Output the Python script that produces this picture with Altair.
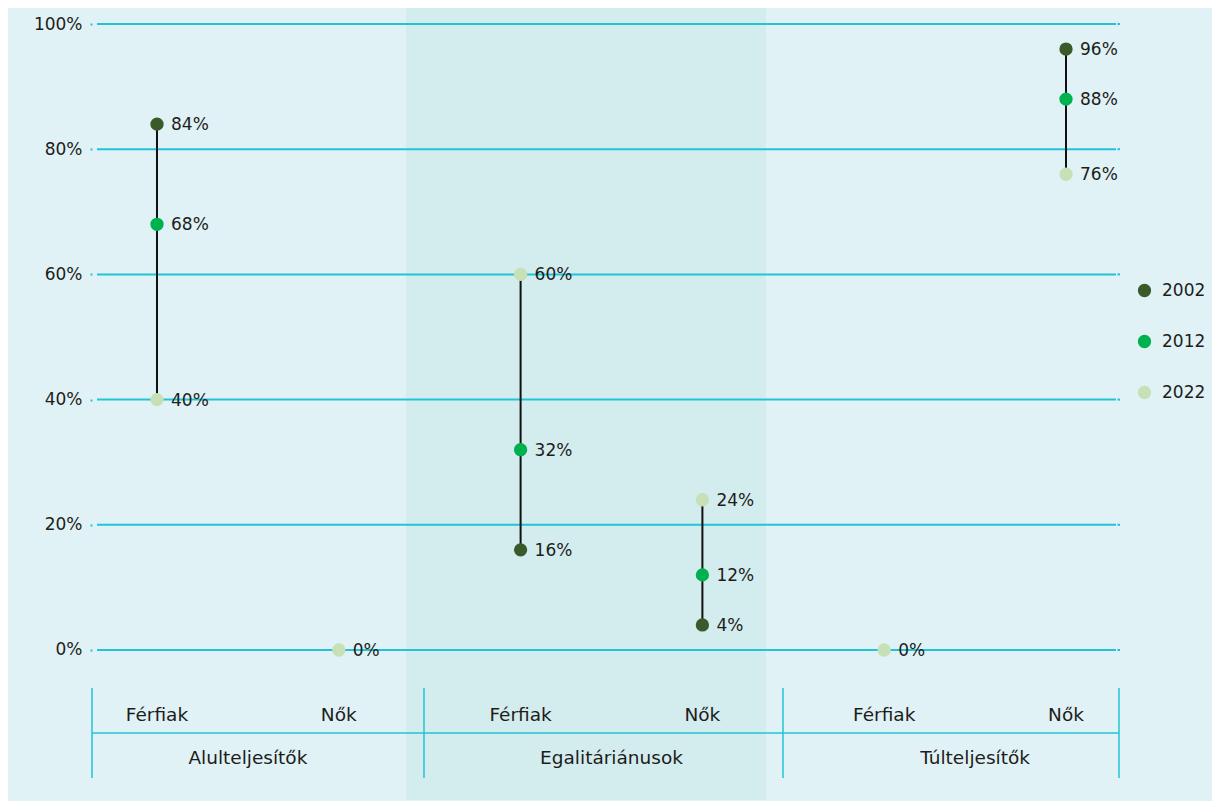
import altair as alt
import pandas as pd

# ---------------- data ----------------
groups = ["Alulteljesítők", "Egalitáriánusok", "Túlteljesítők"]
sexes = ["Férfiak", "Nők"]
years = ["2002", "2012", "2022"]
# one value per column (group x sex), None = no point
v2002 = [84, None, 16, 4, None, 96]
v2012 = [68, None, 32, 12, None, 88]
v2022 = [40, 0, 60, 24, 0, 76]
y_ticks = [0, 20, 40, 60, 80, 100]
year_colors = ["#3b5a29", "#00b14f", "#c8e0b6"]

# ---------------- styling / layout ----------------
FONT = "DejaVu Sans"
TXT = "#1d1d1b"
GRID = "#22c3d6"
BG = "#e0f2f5"
BAND = "#d3ecee"

W, H = 1028, 792
X_DOM = [-0.3575, 5.297]
Y_DOM = [-23.962, 102.556]
xs = alt.Scale(domain=X_DOM, nice=False, zero=False)
ys = alt.Scale(domain=Y_DOM, nice=False, zero=False)
yaxis = alt.Axis(values=y_ticks, labelExpr="datum.value + '%'", domain=False,
                 grid=False, ticks=True, tickSize=2, tickColor=GRID, tickWidth=2,
                 labelPadding=8, labelFont=FONT, labelFontSize=17,
                 labelColor=TXT, title=None)

grid_x0, grid_x1 = -0.33, 5.275
dot_x0, dot_x1 = 5.283, 5.297
sep_xs = [-0.3575, 1.4686, 3.4433, 5.2915]
sep_y0, sep_y1, sep_mid = -6.07, -20.45, -13.26
col_label_y, grp_label_y = -10.38, -17.25
band_x0, band_x1 = 1.3696, 3.3498

# ---------------- tables ----------------
rows = []
for i in range(6):
    for yr, vals in zip(years, [v2002, v2012, v2022]):
        if vals[i] is not None:
            rows.append({"pos": i, "year": yr, "value": vals[i],
                         "label": f"{vals[i]}%"})
pts = pd.DataFrame(rows)

cols = pd.DataFrame({"pos": list(range(6)),
                     "label": [sexes[i % 2] for i in range(6)]})
cols["y"] = col_label_y
grps = pd.DataFrame({"pos": [2 * g + 0.5 for g in range(3)], "label": groups})
grps["y"] = grp_label_y

grid = pd.DataFrame({"y": y_ticks})
grid["x0"], grid["x1"] = grid_x0, grid_x1
grid["d0"], grid["d1"] = dot_x0, dot_x1

seps = pd.DataFrame({"x": sep_xs})
seps["y0"], seps["y1"] = sep_y0, sep_y1
hsep = pd.DataFrame({"x0": [sep_xs[0]], "x1": [sep_xs[-1]], "y": [sep_mid]})
band = pd.DataFrame({"x0": [band_x0], "x1": [band_x1]})


def X(f):
    return alt.X(f, scale=xs, axis=None)


def Y(f):
    return alt.Y(f, scale=ys, axis=yaxis)


# ---------------- layers ----------------
band_l = alt.Chart(band).mark_rect(color=BAND).encode(
    x=X("x0:Q"), x2="x1:Q", y=alt.value(0), y2=alt.value(H))

grid_l = alt.Chart(grid).mark_rule(color=GRID, strokeWidth=2).encode(
    x=X("x0:Q"), x2="x1:Q", y=Y("y:Q"))

dot_l = alt.Chart(grid).mark_rule(color=GRID, strokeWidth=2).encode(
    x=X("d0:Q"), x2="d1:Q", y=Y("y:Q"))

sep_l = alt.Chart(seps).mark_rule(color=GRID, strokeWidth=1.5).encode(
    x=X("x:Q"), y=Y("y0:Q"), y2="y1:Q")

hsep_l = alt.Chart(hsep).mark_rule(color=GRID, strokeWidth=1.5).encode(
    x=X("x0:Q"), x2="x1:Q", y=Y("y:Q"))

col_l = alt.Chart(cols).mark_text(font=FONT, fontSize=18.5, color=TXT,
                                  align="center", baseline="middle").encode(
    x=X("pos:Q"), y=Y("y:Q"), text="label:N")

grp_l = alt.Chart(grps).mark_text(font=FONT, fontSize=18.5, color=TXT,
                                  align="center", baseline="middle").encode(
    x=X("pos:Q"), y=Y("y:Q"), text="label:N")

conn_l = alt.Chart(pts).mark_rule(color="#111111", strokeWidth=2).encode(
    x=X("pos:Q"), y=Y("min(value):Q"), y2="max(value):Q")

pt_l = alt.Chart(pts).mark_point(filled=True, shape="circle", size=177,
                                 opacity=1, strokeWidth=0).encode(
    x=X("pos:Q"), y=Y("value:Q"),
    color=alt.Color("year:N", scale=alt.Scale(domain=years, range=year_colors),
                    legend=alt.Legend(orient="none", legendX=1044, legendY=274,
                                      title=None, symbolType="circle",
                                      symbolSize=177, symbolStrokeWidth=0,
                                      labelFont=FONT, labelFontSize=17,
                                      labelColor=TXT, labelOffset=9,
                                      rowPadding=33, padding=0)))

lab_l = alt.Chart(pts).mark_text(font=FONT, fontSize=17, color=TXT,
                                 align="left", baseline="middle", dx=14, dy=1).encode(
    x=X("pos:Q"), y=Y("value:Q"), text="label:N")

chart = alt.layer(band_l, grid_l, dot_l, sep_l, hsep_l, col_l, grp_l,
                  conn_l, pt_l, lab_l).properties(
    width=W, height=H,
    autosize=alt.AutoSizeParams(type="none"),
    padding={"left": 84, "top": 0, "right": 92, "bottom": 1},
    background=BG,
).configure_view(stroke=None)

chart.save("out.html", embed_options={"renderer": "svg", "actions": False})
